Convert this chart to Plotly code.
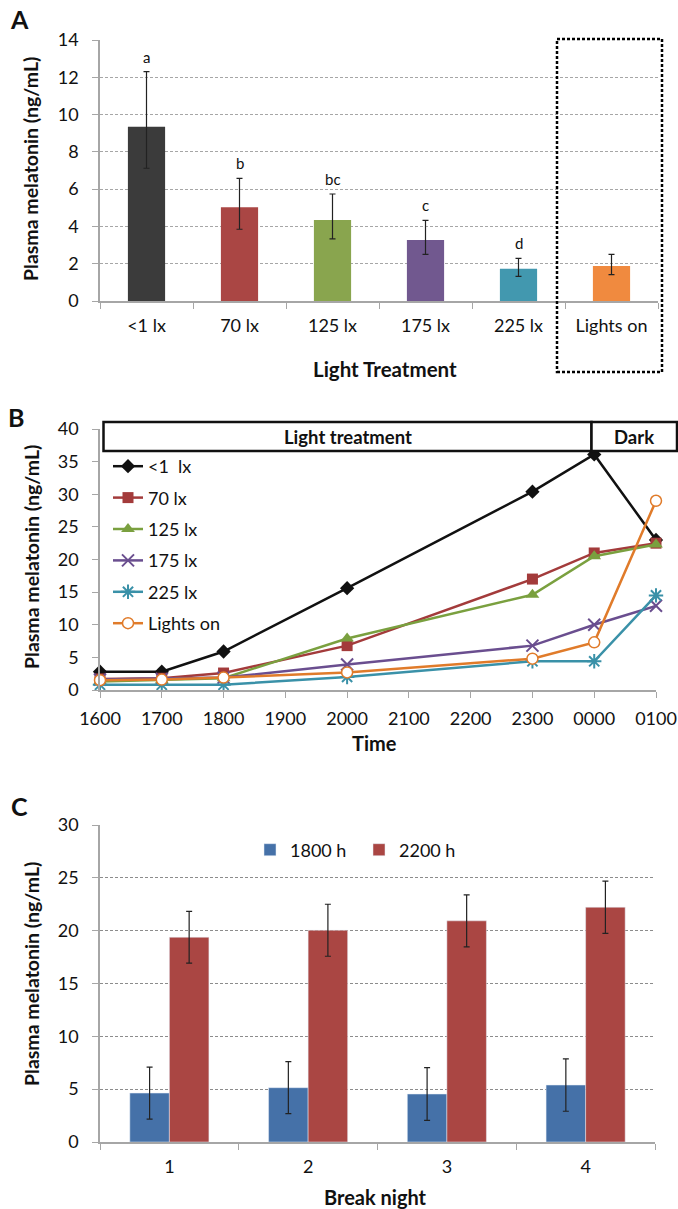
import plotly.graph_objects as go

W, H = 678, 1209
FONT = "Lato"

# ---------------- Data ----------------
# Panel A
a_categories = ["<1 lx", "70 lx", "125 lx", "175 lx", "225 lx", "Lights on"]
a_values = [9.35, 5.03, 4.35, 3.27, 1.73, 1.88]
a_err_plus = [2.95, 1.55, 1.39, 1.06, 0.56, 0.62]
a_err_minus = [2.23, 1.18, 1.02, 0.77, 0.41, 0.47]
a_letters = ["a", "b", "bc", "c", "d", ""]
a_colors = ["#3B3B3B", "#AA4644", "#89A54E", "#71588F", "#4298AF", "#F08A3F"]

# Panel B
b_ticklabels = ["1600", "1700", "1800", "1900", "2000", "2100", "2200", "2300", "0000", "0100"]
b_times = ["1600", "1700", "1800", "2000", "2300", "0000", "0100"]
b_lt1 = [2.8, 2.8, 5.9, 15.6, 30.4, 36.1, 23.0]
b_70 = [1.7, 1.8, 2.6, 6.8, 17.0, 21.0, 22.5]
b_125 = [1.3, 1.5, 1.8, 7.9, 14.6, 20.5, 22.3]
b_175 = [1.6, 1.7, 1.9, 3.9, 6.8, 10.0, 12.9]
b_225 = [0.8, 0.8, 0.8, 2.0, 4.4, 4.4, 14.5]
b_on = [1.5, 1.6, 1.9, 2.7, 4.8, 7.3, 29.0]
b_names = ["<1  lx", "70 lx", "125 lx", "175 lx", "225 lx", "Lights on"]

# Panel C
c_nights = ["1", "2", "3", "4"]
c_1800 = [4.63, 5.14, 4.54, 5.39]
c_1800_err = [2.46, 2.46, 2.50, 2.48]
c_2200 = [19.38, 20.04, 20.93, 22.22]
c_2200_err = [2.45, 2.46, 2.46, 2.47]


def px(x):
    return x / W


def py(y):
    return 1 - y / H


fig = go.Figure()

# ---------------- Panel A ----------------
fig.add_trace(go.Bar(
    x=a_categories, y=a_values, marker=dict(color=a_colors, line=dict(width=0)),
    error_y=dict(type="data", symmetric=False, array=a_err_plus, arrayminus=a_err_minus,
                 color="#222222", thickness=1.2, width=3),
    xaxis="x", yaxis="y", showlegend=False, width=0.4,
))

for cat, v, ep, let in zip(a_categories, a_values, a_err_plus, a_letters):
    if let:
        fig.add_annotation(x=cat, y=v + ep, xref="x", yref="y", text=let, showarrow=False,
                           yanchor="bottom", yshift=4, font=dict(family=FONT, size=15, color="#111"))

# ---------------- Panel B ----------------
b_series = [b_lt1, b_70, b_125, b_175, b_225, b_on]
b_colors = ["#111111", "#A33B3B", "#7AA03F", "#6A4E8F", "#3A91A8", "#E07B2A"]
b_markers = [
    dict(symbol="diamond", size=11, color="#111111"),
    dict(symbol="square", size=11, color="#A33B3B"),
    dict(symbol="triangle-up", size=12, color="#7AA03F"),
    dict(symbol="x-thin-open", size=12, color="#6A4E8F", line=dict(width=2, color="#6A4E8F")),
    dict(symbol="asterisk-open", size=12, color="#3A91A8", line=dict(width=2, color="#3A91A8")),
    dict(symbol="circle", size=11, color="white", line=dict(width=1.5, color="#E07B2A")),
]
for i, (name, vals, col, mk) in enumerate(zip(b_names, b_series, b_colors, b_markers)):
    fig.add_trace(go.Scatter(
        x=b_times, y=vals, name=name, mode="lines+markers",
        line=dict(color=col, width=2.5), marker=mk,
        xaxis="x2", yaxis="y2", cliponaxis=False, legendgroup=f"g{i}", legend="legend",
    ))

# ---------------- Panel C ----------------
fig.add_trace(go.Bar(
    x=c_nights, y=c_1800, name="1800 h", marker=dict(color="#4571A8"),
    error_y=dict(type="data", array=c_1800_err, color="#222222", thickness=1.2, width=3),
    xaxis="x3", yaxis="y3", legend="legend2",
))
fig.add_trace(go.Bar(
    x=c_nights, y=c_2200, name="2200 h", marker=dict(color="#AA4643"),
    error_y=dict(type="data", array=c_2200_err, color="#222222", thickness=1.2, width=3),
    xaxis="x3", yaxis="y3", legend="legend2",
))

# ---------------- Axes ----------------
tickfont = dict(family=FONT, size=18, color="#111")
axcol = "#A6A6A6"
common_x = dict(type="category", showline=True, linecolor=axcol, linewidth=1.5, ticks="outside",
                ticklen=6, tickcolor=axcol, tickfont=tickfont, showgrid=False, zeroline=False,
                fixedrange=True, automargin=False)
common_y = dict(showline=True, linecolor=axcol, linewidth=1.5, ticks="outside", ticklen=6,
                tickcolor=axcol, tickfont=tickfont, zeroline=False, fixedrange=True,
                ticklabelstandoff=10, automargin=False)

fig.update_layout(
    xaxis=dict(**common_x, domain=[px(100), px(658)], anchor="y", tickson="boundaries",
               range=[-0.5, 5.5], ticklabelstandoff=8),
    yaxis=dict(**common_y, domain=[py(301), py(40)], anchor="x", range=[0, 14], dtick=2,
               showgrid=True, gridcolor="#A6A6A6", griddash="3px,2px", gridwidth=1),
    xaxis2=dict(**common_x, domain=[px(100), px(656)], anchor="y2", categoryorder="array",
                categoryarray=b_ticklabels, range=[0, 9], ticklabelstandoff=6),
    yaxis2=dict(**common_y, domain=[py(690), py(429)], anchor="x2", range=[0, 40], dtick=5,
                showgrid=False),
    xaxis3=dict(**common_x, domain=[px(100), px(655)], anchor="y3", tickson="boundaries",
                range=[-0.5, 3.5], ticklabelstandoff=8),
    yaxis3=dict(**common_y, domain=[py(1142), py(825)], anchor="x3", range=[0, 30], dtick=5,
                showgrid=True, gridcolor="#8C8C8C", griddash="3px,2px", gridwidth=1),
    barmode="group", bargap=0.43,
    width=W, height=H, margin=dict(l=0, r=0, t=0, b=0, pad=0, autoexpand=False),
    paper_bgcolor="white", plot_bgcolor="white",
    font=dict(family=FONT, color="#111"),
    legend=dict(x=px(108), y=py(448), xanchor="left", yanchor="top", traceorder="grouped",
                tracegroupgap=5, bgcolor="rgba(0,0,0,0)", font=dict(family=FONT, size=18),
                itemclick=False, itemdoubleclick=False),
    legend2=dict(x=px(250), y=py(850), xanchor="left", yanchor="middle", orientation="h",
                 bgcolor="rgba(0,0,0,0)", font=dict(family=FONT, size=18), entrywidth=64,
                 itemclick=False, itemdoubleclick=False),
)

# ---------------- Shapes ----------------
shapes = [
    dict(type="rect", xref="paper", yref="paper", x0=px(557), x1=px(662), y0=py(372), y1=py(39),
         line=dict(color="black", width=2.5, dash="3px,2px")),
    dict(type="rect", xref="paper", yref="paper", x0=px(103.5), x1=px(591.5), y0=py(451), y1=py(422),
         line=dict(color="#111", width=2.5), fillcolor="white", layer="above"),
    dict(type="rect", xref="paper", yref="paper", x0=px(591.5), x1=px(677), y0=py(451), y1=py(422),
         line=dict(color="#111", width=2.5), fillcolor="white", layer="above"),
]
fig.update_layout(shapes=shapes)

# ---------------- Text annotations ----------------
def ann(text, x, y, size, angle=0, xanchor="center"):
    fig.add_annotation(text=text, x=px(x), y=py(y), xref="paper", yref="paper", showarrow=False,
                       xanchor=xanchor, yanchor="middle", textangle=angle,
                       font=dict(family=FONT, size=size, color="#111"))

ann("<b>A</b>", 8, 19, 25, xanchor="left")
ann("<b>B</b>", 6, 417, 25, xanchor="left")
ann("<b>C</b>", 9, 806, 25, xanchor="left")
for yc in (169, 557, 974):
    ann("<b>Plasma melatonin (ng/mL)</b>", 31, yc, 19.5, angle=-90)
ann("<b>Light Treatment</b>", 385, 369, 20.5)
ann("<b>Time</b>", 374, 743, 20)
ann("<b>Break night</b>", 375, 1197, 20)
ann("<b>Light treatment</b>", 347.5, 437, 18.5)
ann("<b>Dark</b>", 634, 437, 18.5)

fig.write_html(
    "out.html",
    config={"displayModeBar": False},
    post_script="document.body.style.margin='0';document.body.style.overflow='hidden';",
)
